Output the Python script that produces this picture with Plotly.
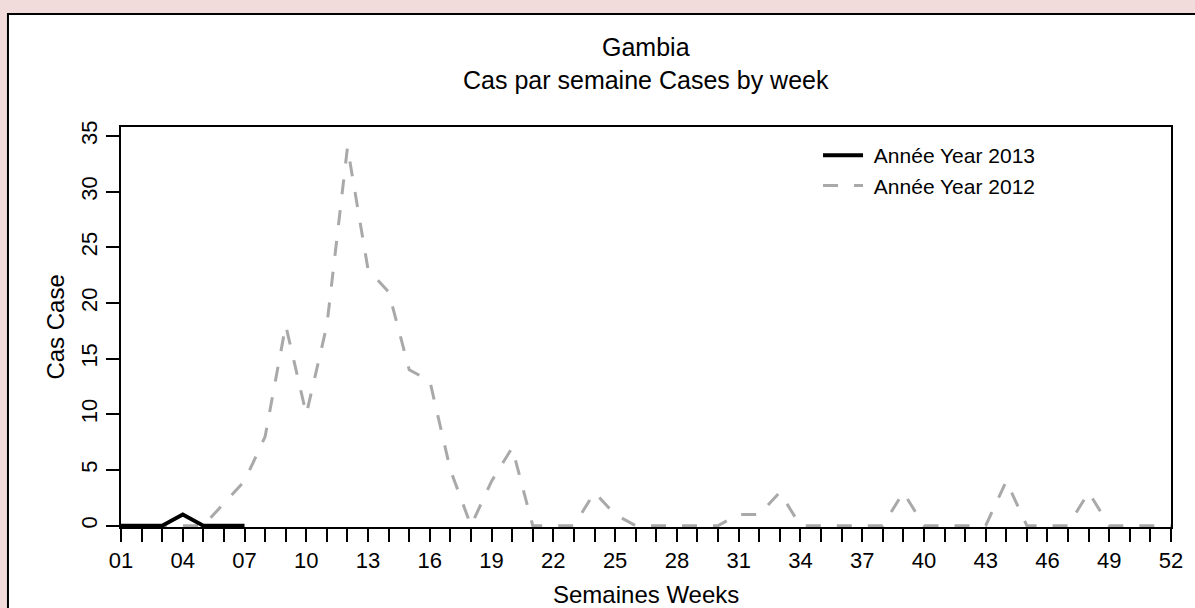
import plotly.graph_objects as go

# ---- data ----
weeks = list(range(1, 53))
week_labels = ["01", "04", "07", "10", "13", "16", "19", "22", "25", "28", "31", "34",
               "37", "40", "43", "46", "49", "52"]
weeks_2013 = [1, 2, 3, 4, 5, 6, 7]
cases_2013 = [0, 0, 0, 1, 0, 0, 0]
cases_2012 = [0, 0, 0, 0, 0, 2, 4, 8, 18, 10,
              18, 34, 23, 21, 14, 13, 5, 0, 4, 7,
              0, 0, 0, 3, 1, 0, 0, 0, 0, 0,
              1, 1, 3, 0, 0, 0, 0, 0, 3, 0,
              0, 0, 0, 4, 0, 0, 0, 3, 0, 0,
              0, 0]
y_ticks = [0, 5, 10, 15, 20, 25, 30, 35]
series_names = ["Année Year 2013", "Année Year 2012"]
title_line1 = "Gambia"
title_line2 = "Cas par semaine Cases by week"
x_title = "Semaines Weeks"
y_title = "Cas Case"

# ---- layout constants ----
W, H = 1195, 608
L, R, T, B = 121, 15, 127, 81
PW, PH = W - L - R, H - T - B
FONT = "Liberation Sans, Arial, sans-serif"


def px_x(x):
    return (x - L) / PW


def px_y(y):
    return (H - B - y) / PH


label_map = {int(s): s for s in week_labels}
tick_text = [label_map.get(w, "") for w in weeks]

fig = go.Figure()
fig.add_trace(go.Scatter(
    x=weeks, y=cases_2012, mode="lines", name="\u00a0" + series_names[1], legendrank=2,
    line=dict(color="#a9a9a9", width=3, dash="15px,16px"),
))
fig.add_trace(go.Scatter(
    x=weeks_2013, y=cases_2013, mode="lines", name="\u00a0" + series_names[0], legendrank=1,
    line=dict(color="black", width=4),
))

axis_common = dict(
    showgrid=False, zeroline=False, showline=True, mirror=True,
    linecolor="black", linewidth=1.5,
    ticks="outside", ticklen=13, tickwidth=1.5, tickcolor="black",
    tickfont=dict(family=FONT, size=22, color="black"),
)

fig.update_xaxes(range=[1, 52], tickmode="array", tickvals=weeks, ticktext=tick_text,
                 tickangle=0, **axis_common)
fig.update_yaxes(range=[-0.12, 35.81], tickmode="array", tickvals=y_ticks,
                 ticktext=[str(v) for v in y_ticks], tickangle=-90, **axis_common)

fig.add_shape(type="rect", xref="paper", yref="paper",
              x0=px_x(7), x1=px_x(1300), y0=px_y(14), y1=px_y(700),
              fillcolor="white", line=dict(color="black", width=2), layer="below")

annos = [
    dict(text=title_line1, x=0.5, y=px_y(47), size=25),
    dict(text=title_line2, x=0.5, y=px_y(80), size=25),
    dict(text=x_title, x=0.5, y=px_y(594), size=24),
]
for a in annos:
    fig.add_annotation(text=a["text"], xref="paper", yref="paper", x=a["x"], y=a["y"],
                       xanchor="center", yanchor="middle", showarrow=False,
                       font=dict(family=FONT, size=a["size"], color="black"))
fig.add_annotation(text=y_title, xref="paper", yref="paper", x=px_x(54), y=0.5,
                   xanchor="center", yanchor="middle", textangle=-90, showarrow=False,
                   font=dict(family=FONT, size=24, color="black"))

fig.update_layout(
    width=W, height=H,
    margin=dict(l=L, r=R, t=T, b=B, pad=0),
    paper_bgcolor="#f2dcdb", plot_bgcolor="white",
    showlegend=True,
    legend=dict(x=px_x(824), y=px_y(135), xanchor="left", yanchor="top",
                bgcolor="rgba(0,0,0,0)", borderwidth=0,
                font=dict(family=FONT, size=21, color="black"),
                tracegroupgap=0, itemwidth=40),
)

fig.write_html("out.html", config={"displayModeBar": False},
               post_script="document.body.style.margin='0px';document.body.style.overflow='hidden';")
